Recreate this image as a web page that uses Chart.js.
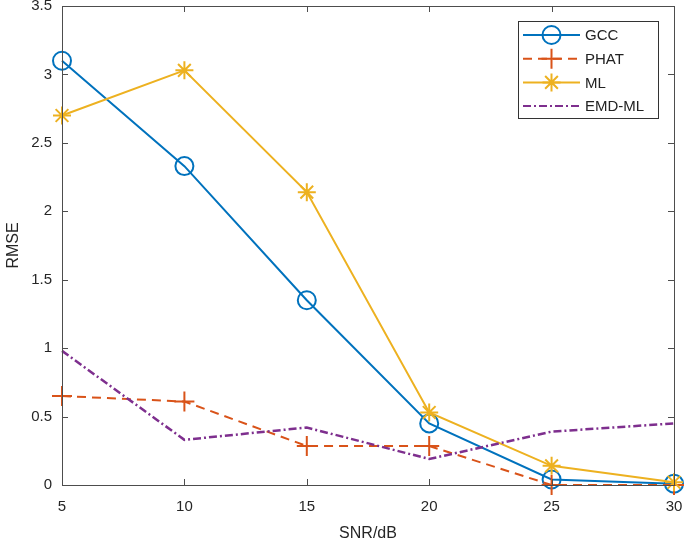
<!DOCTYPE html>
<html>
<head>
<meta charset="utf-8">
<script src="https://cdn.jsdelivr.net/npm/chart.js@4.4.0/dist/chart.umd.min.js"></script>
<style>
    html, body { margin: 0; padding: 0; background: #fff; }
    #wrap { width: 685px; height: 540px; position: relative; }
</style>
</head>
<body>
<div id="wrap"><canvas id="rmseChart"></canvas></div>
<script>
const snrValues = [5, 10, 15, 20, 25, 30];
const gccRmse = [3.10, 2.33, 1.35, 0.45, 0.04, 0.01];
const phatRmse = [0.65, 0.61, 0.285, 0.285, 0.0, 0.0];
const mlRmse = [2.70, 3.03, 2.14, 0.53, 0.14, 0.02];
const emdMlRmse = [0.98, 0.33, 0.42, 0.19, 0.39, 0.45];
const xTicks = [5, 10, 15, 20, 25, 30];
const yTicks = [0, 0.5, 1, 1.5, 2, 2.5, 3, 3.5];

const fontFamily = 'Arial, "Liberation Sans", sans-serif';
const axisColor = '#4d4d4d';

function toPoints(values) {
    return snrValues.map((x, i) => ({ x: x, y: values[i] }));
}

// inward tick marks on all four sides, MATLAB style
const boxTicks = {
    id: 'boxTicks',
    afterDraw(chart) {
        const { ctx, chartArea, scales } = chart;
        const len = 6;
        ctx.save();
        ctx.strokeStyle = axisColor;
        ctx.lineWidth = 1;
        ctx.beginPath();
        xTicks.forEach((v) => {
            const px = Math.round(scales.x.getPixelForValue(v)) + 0.5;
            ctx.moveTo(px, chartArea.bottom);
            ctx.lineTo(px, chartArea.bottom - len);
            ctx.moveTo(px, chartArea.top);
            ctx.lineTo(px, chartArea.top + len);
        });
        yTicks.forEach((v) => {
            const py = Math.round(scales.y.getPixelForValue(v)) + 0.5;
            ctx.moveTo(chartArea.left, py);
            ctx.lineTo(chartArea.left + len, py);
            ctx.moveTo(chartArea.right, py);
            ctx.lineTo(chartArea.right - len, py);
        });
        ctx.stroke();
        ctx.strokeRect(chartArea.left + 0.5, chartArea.top + 0.5,
            chartArea.right - chartArea.left, chartArea.bottom - chartArea.top);
        ctx.restore();
    },
};

function drawMarker(ctx, style, x, y, r) {
    ctx.beginPath();
    if (style === 'circle') {
        ctx.arc(x, y, r, 0, Math.PI * 2);
    } else if (style === 'cross') {
        ctx.moveTo(x - r, y); ctx.lineTo(x + r, y);
        ctx.moveTo(x, y - r); ctx.lineTo(x, y + r);
    } else if (style === 'star') {
        ctx.moveTo(x - r, y); ctx.lineTo(x + r, y);
        ctx.moveTo(x, y - r); ctx.lineTo(x, y + r);
        const d = r * Math.SQRT1_2;
        ctx.moveTo(x - d, y - d); ctx.lineTo(x + d, y + d);
        ctx.moveTo(x - d, y + d); ctx.lineTo(x + d, y - d);
    }
    ctx.stroke();
}

// boxed legend in the upper right corner of the axes
const insideLegend = {
    id: 'insideLegend',
    afterDraw(chart) {
        const { ctx } = chart;
        const box = { left: 518, top: 21, width: 140, height: 97 };
        ctx.save();
        ctx.fillStyle = '#fff';
        ctx.fillRect(box.left, box.top, box.width, box.height);
        ctx.strokeStyle = '#333';
        ctx.lineWidth = 1;
        ctx.strokeRect(box.left + 0.5, box.top + 0.5, box.width, box.height);
        ctx.font = '15px ' + fontFamily;
        ctx.textBaseline = 'middle';
        chart.data.datasets.forEach((ds, i) => {
            const y = 35 + i * 23.7;
            ctx.strokeStyle = ds.borderColor;
            ctx.lineWidth = 2;
            ctx.setLineDash(ds.borderDash || []);
            ctx.beginPath();
            ctx.moveTo(523, y);
            ctx.lineTo(580, y);
            ctx.stroke();
            ctx.setLineDash([]);
            if (ds.pointRadius > 0) {
                drawMarker(ctx, ds.pointStyle, 551.5, y, ds.pointRadius);
            }
            ctx.fillStyle = '#222';
            ctx.fillText(ds.label, 585, y + 1);
        });
        ctx.restore();
    },
};

new Chart(document.getElementById('rmseChart'), {
    type: 'line',
    data: {
        datasets: [
            {
                label: 'GCC',
                data: toPoints(gccRmse),
                borderColor: '#0072BD',
                backgroundColor: 'rgba(0,0,0,0)',
                borderWidth: 2,
                pointStyle: 'circle',
                pointRadius: 9,
                pointBorderWidth: 2,
                pointBackgroundColor: 'rgba(0,0,0,0)',
                clip: false,
                order: 3,
            },
            {
                label: 'PHAT',
                data: toPoints(phatRmse),
                borderColor: '#D95319',
                backgroundColor: 'rgba(0,0,0,0)',
                borderWidth: 2,
                borderDash: [9, 6],
                pointStyle: 'cross',
                pointRadius: 10,
                pointBorderWidth: 2,
                clip: false,
                order: 2,
            },
            {
                label: 'ML',
                data: toPoints(mlRmse),
                borderColor: '#EDB120',
                backgroundColor: 'rgba(0,0,0,0)',
                borderWidth: 2,
                pointStyle: 'star',
                pointRadius: 9,
                pointBorderWidth: 2,
                clip: false,
                order: 1,
            },
            {
                label: 'EMD-ML',
                data: toPoints(emdMlRmse),
                borderColor: '#7E2F8E',
                backgroundColor: 'rgba(0,0,0,0)',
                borderWidth: 2.5,
                borderDash: [8, 3, 2, 3],
                pointRadius: 0,
                clip: false,
                order: 0,
            },
        ],
    },
    options: {
        responsive: true,
        maintainAspectRatio: false,
        animation: false,
        layout: {
            autoPadding: false,
            padding: { top: 6, right: 11, left: 0, bottom: 0 },
        },
        plugins: {
            legend: { display: false },
            tooltip: { enabled: false },
        },
        elements: {
            line: { tension: 0 },
        },
        scales: {
            x: {
                type: 'linear',
                min: 5,
                max: 30,
                afterBuildTicks: (scale) => {
                    scale.ticks = xTicks.map((v) => ({ value: v }));
                },
                afterFit: (scale) => {
                    scale.height = 55;
                    scale.paddingLeft = 0;
                    scale.paddingRight = 0;
                },
                grid: { display: false, drawTicks: false },
                border: { display: false },
                ticks: {
                    color: '#262626',
                    padding: 13,
                    font: { size: 15, family: fontFamily },
                },
                title: {
                    display: true,
                    text: 'SNR/dB',
                    color: '#262626',
                    padding: { top: 0, bottom: -3 },
                    font: { size: 16, family: fontFamily },
                },
            },
            y: {
                type: 'linear',
                min: 0,
                max: 3.5,
                afterBuildTicks: (scale) => {
                    scale.ticks = yTicks.map((v) => ({ value: v }));
                },
                afterFit: (scale) => {
                    scale.width = 62;
                    scale.paddingTop = 0;
                    scale.paddingBottom = 0;
                },
                grid: { display: false, drawTicks: false },
                border: { display: false },
                ticks: {
                    color: '#262626',
                    padding: 10,
                    font: { size: 15, family: fontFamily },
                    callback: (value) => String(value),
                },
                title: {
                    display: true,
                    text: 'RMSE',
                    color: '#262626',
                    padding: { top: 4, bottom: 0 },
                    font: { size: 16, family: fontFamily },
                },
            },
        },
    },
    plugins: [boxTicks, insideLegend],
});
</script>
</body>
</html>
